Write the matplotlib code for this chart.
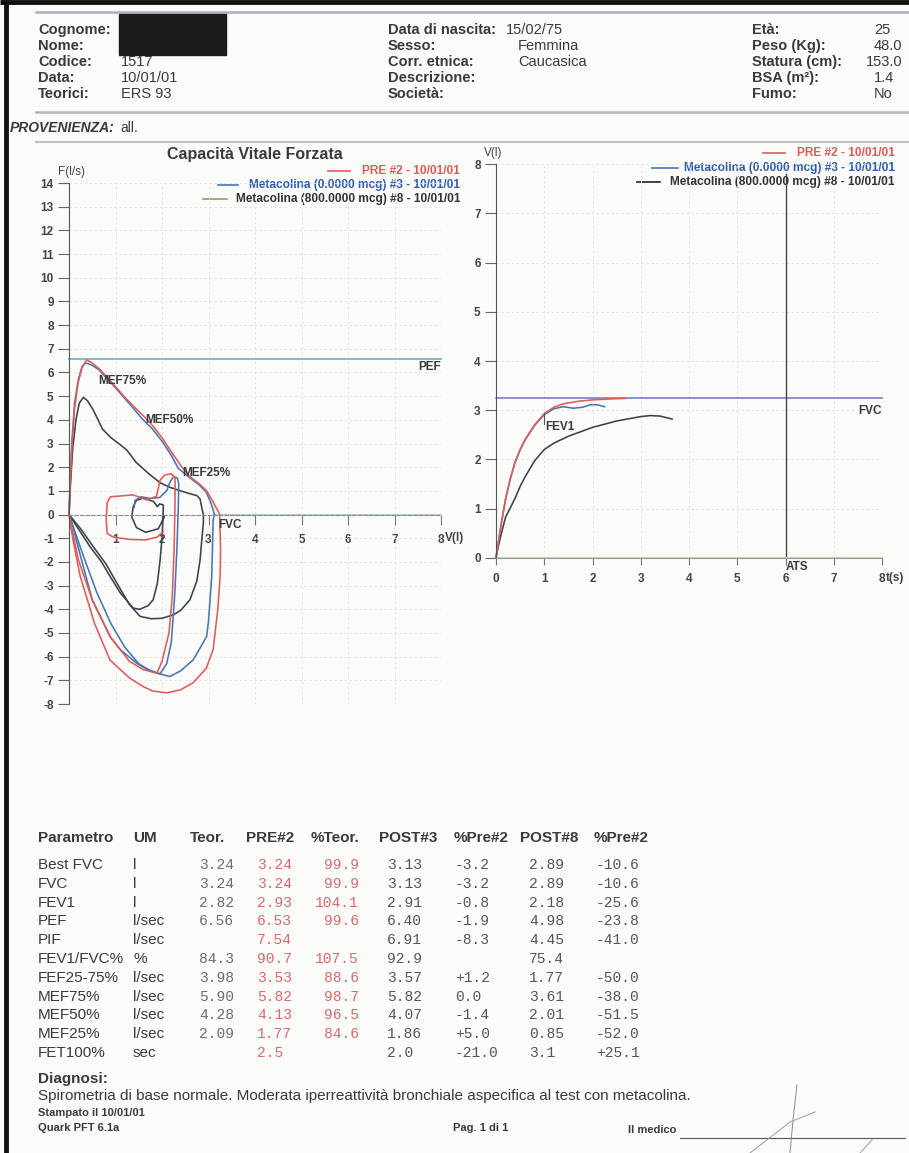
import matplotlib
matplotlib.use("Agg")
import matplotlib.pyplot as plt

# ---------------- data ----------------
NARROW = ['Liberation Sans', 'DejaVu Sans']
SANS = ['Liberation Sans', 'DejaVu Sans']
MONO = ['Liberation Mono', 'DejaVu Sans Mono']

RED = '#df5b58'
BLUE = '#4677b4'
DARK = '#3b424c'

series_names = ["PRE #2 - 10/01/01",
                "Metacolina (0.0000 mcg) #3 - 10/01/01",
                "Metacolina (800.0000 mcg) #8 - 10/01/01"]

PEF_TEOR = 6.56
FVC_TEOR = 3.24
ATS_T = 6

# flow-volume: expiration
PRE_EXP_V = [0, 0.02, 0.06, 0.12, 0.2, 0.28, 0.38, 0.5, 0.65, 0.81, 1.0, 1.2, 1.4, 1.62, 1.8, 2.0, 2.2, 2.43, 2.6, 2.8, 2.96, 3.08, 3.16, 3.22, 3.24]
PRE_EXP_F = [0, 1.0, 2.8, 4.5, 5.6, 6.2, 6.53, 6.4, 6.15, 5.82, 5.4, 4.95, 4.55, 4.13, 3.75, 3.25, 2.65, 2.0, 1.6, 1.3, 1.0, 0.6, 0.3, 0.1, 0]
B0_EXP_V = [0, 0.02, 0.06, 0.12, 0.2, 0.28, 0.36, 0.5, 0.65, 0.78, 1.0, 1.2, 1.4, 1.56, 1.8, 2.0, 2.2, 2.35, 2.6, 2.8, 2.95, 3.05, 3.1, 3.13]
B0_EXP_F = [0, 1.1, 3.0, 4.7, 5.7, 6.25, 6.4, 6.3, 6.1, 5.82, 5.35, 4.9, 4.45, 4.07, 3.6, 3.1, 2.5, 1.95, 1.55, 1.25, 0.95, 0.5, 0.2, 0]
B8_EXP_V = [0, 0.03, 0.08, 0.15, 0.22, 0.31, 0.4, 0.52, 0.72, 0.9, 1.1, 1.24, 1.445, 1.7, 1.96, 2.17, 2.4, 2.6, 2.75, 2.82, 2.86, 2.89]
B8_EXP_F = [0, 1.2, 2.8, 4.0, 4.7, 4.95, 4.8, 4.42, 3.61, 3.25, 2.95, 2.73, 2.2, 1.75, 1.34, 1.15, 1.0, 0.88, 0.8, 0.65, 0.25, 0]

# flow-volume: forced inspiration
PRE_INS_V = [3.24, 3.26, 3.25, 3.2, 3.1, 2.95, 2.67, 2.4, 2.1, 1.8, 1.6, 1.3, 0.88, 0.55, 0.24, 0.08, 0]
PRE_INS_F = [0, -1.5, -2.6, -4.0, -5.7, -6.5, -7.1, -7.4, -7.53, -7.45, -7.27, -6.9, -6.14, -4.6, -2.6, -1.0, 0]
B0_INS_V = [3.13, 3.1, 3.07, 3.0, 2.96, 2.8, 2.67, 2.4, 2.17, 1.89, 1.6, 1.45, 1.1, 0.88, 0.5, 0.24, 0.08, 0]
B0_INS_F = [0, -0.22, -2.6, -4.5, -5.15, -5.7, -6.14, -6.6, -6.84, -6.7, -6.45, -6.27, -5.7, -5.15, -3.6, -1.7, -0.5, 0]
B8_INS_V = [2.89, 2.89, 2.85, 2.82, 2.75, 2.6, 2.4, 2.24, 2.0, 1.77, 1.53, 1.3, 1.03, 0.8, 0.52, 0.25, 0]
B8_INS_F = [0, -0.35, -1.2, -1.9, -2.8, -3.6, -4.05, -4.24, -4.38, -4.4, -4.3, -3.8, -2.9, -2.1, -1.35, -0.6, 0]

# flow-volume: second inspiration and tidal loops
PRE_TID_V = [0, 0.2, 0.5, 0.9, 1.3, 1.6, 1.89, 2.0, 2.15, 2.22, 2.26, 2.28, 2.28, 2.2, 2.06, 1.96, 1.88, 1.67, 1.38, 0.89, 0.82, 0.8, 0.82, 0.95, 1.3, 1.65, 1.9, 2.03]
PRE_TID_F = [0, -1.9, -3.6, -5.2, -6.2, -6.55, -6.7, -6.2, -5.0, -3.5, -1.5, 0.5, 1.57, 1.72, 1.67, 1.45, 0.77, 0.62, 0.83, 0.75, 0.5, -0.2, -0.8, -0.95, -1.05, -1.07, -0.95, -0.72]
B0_TID_V = [0, 0.3, 0.6, 0.9, 1.2, 1.5, 1.75, 1.96, 2.1, 2.2, 2.27, 2.32, 2.35, 2.36, 2.33, 2.25, 2.18, 2.1, 1.95, 1.75, 1.55, 1.42, 1.4]
B0_TID_F = [0, -1.7, -3.3, -4.6, -5.6, -6.3, -6.6, -6.72, -6.3, -5.4, -3.5, -1.5, 0.3, 1.3, 1.55, 1.6, 1.4, 1.0, 0.72, 0.68, 0.75, 0.6, 0.3]
B8_TID_V = [0, 0.2, 0.45, 0.7, 0.88, 1.1, 1.38, 1.52, 1.7, 1.81, 1.9, 1.96, 2.0, 2.02, 2.03, 1.95, 1.9, 1.82, 1.6, 1.45, 1.38, 1.35, 1.45, 1.65, 1.92, 2.05]
B8_TID_F = [0, -0.6, -1.35, -2.0, -2.6, -3.3, -3.95, -4.0, -3.85, -3.6, -2.9, -1.9, -1.0, -0.2, 0.4, 0.45, 0.33, 0.55, 0.7, 0.6, 0.33, -0.1, -0.55, -0.75, -0.6, -0.1]

# volume-time
PRE_T = [0, 0.05, 0.1, 0.2, 0.3, 0.4, 0.5, 0.6, 0.8, 1.0, 1.2, 1.4, 1.7, 2.0, 2.4, 2.7]
PRE_VT = [0, 0.32, 0.64, 1.2, 1.62, 1.96, 2.2, 2.4, 2.7, 2.93, 3.06, 3.13, 3.18, 3.21, 3.23, 3.24]
B0_T = [0, 0.05, 0.1, 0.2, 0.3, 0.4, 0.5, 0.6, 0.8, 1.0, 1.2, 1.4, 1.6, 1.8, 1.95, 2.1, 2.25]
B0_VT = [0, 0.32, 0.64, 1.2, 1.62, 1.95, 2.19, 2.39, 2.69, 2.91, 3.03, 3.07, 3.04, 3.06, 3.11, 3.11, 3.07]
B8_T = [0, 0.05, 0.1, 0.2, 0.3, 0.4, 0.5, 0.6, 0.8, 1.0, 1.2, 1.5, 2.0, 2.5, 3.0, 3.2, 3.4, 3.65]
B8_VT = [0, 0.24, 0.45, 0.83, 1.02, 1.22, 1.45, 1.64, 1.97, 2.2, 2.33, 2.47, 2.65, 2.78, 2.87, 2.89, 2.88, 2.82]

# table
table_header = ["Parametro", "UM", "Teor.", "PRE#2", "%Teor.", "POST#3", "%Pre#2", "POST#8", "%Pre#2"]
param_names = ["Best FVC", "FVC", "FEV1", "PEF", "PIF", "FEV1/FVC%", "FEF25-75%", "MEF75%", "MEF50%", "MEF25%", "FET100%"]
units = ["l", "l", "l", "l/sec", "l/sec", "%", "l/sec", "l/sec", "l/sec", "l/sec", "sec"]
teor = ["3.24", "3.24", "2.82", "6.56", "", "84.3", "3.98", "5.90", "4.28", "2.09", ""]
pre2 = ["3.24", "3.24", "2.93", "6.53", "7.54", "90.7", "3.53", "5.82", "4.13", "1.77", "2.5"]
pct_teor = ["99.9", "99.9", "104.1", "99.6", "", "107.5", "88.6", "98.7", "96.5", "84.6", ""]
post3 = ["3.13", "3.13", "2.91", "6.40", "6.91", "92.9", "3.57", "5.82", "4.07", "1.86", "2.0"]
pct_pre3 = ["-3.2", "-3.2", "-0.8", "-1.9", "-8.3", "", "+1.2", "0.0", "-1.4", "+5.0", "-21.0"]
post8 = ["2.89", "2.89", "2.18", "4.98", "4.45", "75.4", "1.77", "3.61", "2.01", "0.85", "3.1"]
pct_pre8 = ["-10.6", "-10.6", "-25.6", "-23.8", "-41.0", "", "-50.0", "-38.0", "-51.5", "-52.0", "+25.1"]

header_left = [("Cognome:", ""), ("Nome:", ""), ("Codice:", "1517"), ("Data:", "10/01/01"), ("Teorici:", "ERS 93")]
header_mid = [("Data di nascita:", "15/02/75"), ("Sesso:", "Femmina"), ("Corr. etnica:", "Caucasica"), ("Descrizione:", ""), ("Società:", "")]
header_right = [("Età:", "25"), ("Peso (Kg):", "48.0"), ("Statura (cm):", "153.0"), ("BSA (m²):", "1.4"), ("Fumo:", "No")]

# ---------------- figure ----------------
W, H = 909, 1153
fig = plt.figure(figsize=(W / 100, H / 100), dpi=100)
fig.patch.set_facecolor('#fbfbfa')
bg = fig.add_axes([0, 0, 1, 1])
bg.set_xlim(0, W)
bg.set_ylim(H, 0)
bg.axis('off')

TXT = '#3a3a3a'


def t(x, y, s, size=10, fam=NARROW, **kw):
    kw.setdefault('va', 'center')
    kw.setdefault('color', TXT)
    bg.text(x, y, s, fontsize=size, family=fam, **kw)


# page frame
bg.plot([0, W], [2, 2], color='#111111', lw=3.5, solid_capstyle='butt')
bg.plot([5.5, 5.5], [0, H], color='#111111', lw=3.5, solid_capstyle='butt')
bg.plot([36, W], [12, 12], color='#aab2c2', lw=1.8)
bg.plot([36, W], [112, 112], color='#b4b4bc', lw=1.8)
bg.plot([36, W], [142, 142], color='#b8c4cc', lw=1.5)

# header
rows_y = [30, 46, 62, 78, 94]
for (lab, val), y in zip(header_left, rows_y):
    t(38, y, lab, 10.5, weight='bold')
    if val:
        t(121, y, val, 10.5)
bg.add_patch(plt.Rectangle((119, 14), 107, 41, color='#1c1a1a', zorder=5))
for i, ((lab, val), y) in enumerate(zip(header_mid, rows_y)):
    t(388, y, lab, 10.5, weight='bold')
    if val:
        t(506 if i == 0 else 518, y, val, 10.5)
for (lab, val), y in zip(header_right, rows_y):
    t(752, y, lab, 10.5, weight='bold')
    t(866 if val == "153.0" else 874, y, val, 10.5)
t(10, 128, "PROVENIENZA:", 10, weight='bold', style='italic')
t(120, 128, "all.", 10)

# legends (drawn as text)
leg_colors_text = [RED, '#2f5fae', '#333333']
leg_colors_line = [RED, BLUE, '#9a9a62']
left_leg = [(171, 328, 350), (185, 218, 238), (199, 203, 227)]
for (y, x0, x1), name, ct, cl in zip(left_leg, series_names, leg_colors_text, leg_colors_line):
    bg.plot([x0, x1], [y, y], color=cl, lw=1.2)
    t(460, y, name, 8.6, ha='right', color=ct, weight='bold')
right_leg = [(153, 763, 785), (168, 652, 678), (182, 637, 660)]
leg_colors_line2 = [RED, BLUE, '#222222']
for (y, x0, x1), name, ct, cl in zip(right_leg, series_names, leg_colors_text, leg_colors_line2):
    bg.plot([x0, x1], [y, y], color=cl, lw=1.2)
    t(895, y, name, 8.6, ha='right', color=ct, weight='bold')

t(255, 155, "Capacità Vitale Forzata", 11.5, ha='center', weight='bold')

# ---------------- flow-volume chart ----------------
ax1 = fig.add_axes([69 / W, 1 - 704 / H, 372 / W, 521 / H])
ax1.patch.set_alpha(0)
ax1.set_xlim(0, 8)
ax1.set_ylim(-8, 14)
for s in ['top', 'right']:
    ax1.spines[s].set_visible(False)
ax1.spines['bottom'].set_position(('data', 0))
ax1.spines['left'].set_color('#555555')
ax1.spines['bottom'].set_color('#888888')
ax1.spines['bottom'].set_linestyle((0, (3, 2)))
ax1.set_xticks(range(1, 9))
ax1.set_xticklabels([str(i) for i in range(1, 9)])
ax1.set_yticks(range(-8, 15))
ax1.set_yticklabels([str(i) for i in range(-8, 15)])
ax1.tick_params(axis='y', direction='out', length=8, width=0.8, color='#666666',
                labelsize=8.5, labelcolor='#444444', pad=3)
ax1.tick_params(axis='x', direction='out', length=7, width=0.8, color='#777777',
                labelsize=8.5, labelcolor='#444444', pad=7)
for lab in ax1.get_xticklabels() + ax1.get_yticklabels():
    lab.set_family(NARROW)
    lab.set_weight('bold')
ax1.grid(True, color='#e4e4e4', lw=0.6, ls=(0, (3, 3)))
ax1.set_axisbelow(True)

ax1.plot([0, 8], [PEF_TEOR, PEF_TEOR], color='#78b4c8', lw=1.3, clip_on=False)
ax1.plot([3.1, 8], [0, 0], color='#a8c8dc', lw=1.3, clip_on=False)

kw = dict(lw=1.15, clip_on=False, solid_joinstyle='round')
ax1.plot(B8_EXP_V + B8_INS_V, B8_EXP_F + B8_INS_F, color=DARK, **kw)
ax1.plot(B8_TID_V, B8_TID_F, color=DARK, **kw)
ax1.plot(B0_EXP_V + B0_INS_V, B0_EXP_F + B0_INS_F, color=BLUE, **kw)
ax1.plot(B0_TID_V, B0_TID_F, color=BLUE, **kw)
ax1.plot(PRE_EXP_V + PRE_INS_V, PRE_EXP_F + PRE_INS_F, color=RED, **kw)
ax1.plot(PRE_TID_V, PRE_TID_F, color=RED, **kw)

lab_kw = dict(fontsize=8.5, family=NARROW, weight='bold', color='#3a3a3a', va='center')
ax1.text(0.62, 5.64, "MEF75%", **lab_kw)
ax1.text(1.63, 4.0, "MEF50%", **lab_kw)
ax1.text(2.43, 1.76, "MEF25%", **lab_kw)
ax1.text(3.2, -0.44, "FVC", **lab_kw)
ax1.text(8, PEF_TEOR - 0.35, "PEF", ha='right', **lab_kw)
ax1.text(8.09, -1.0, "V(l)", fontsize=8.5, family=NARROW, weight='bold', color='#444444', va='center')
ax1.text(0.05, 14.48, "F(l/s)", fontsize=8.5, family=NARROW, color='#444444', ha='center', va='center')

# ---------------- volume-time chart ----------------
ax2 = fig.add_axes([496 / W, 1 - 557.7 / H, 386 / W, 393.4 / H])
ax2.patch.set_alpha(0)
ax2.set_xlim(0, 8)
ax2.set_ylim(0, 8)
for s in ['top', 'right']:
    ax2.spines[s].set_visible(False)
ax2.spines['left'].set_color('#555555')
ax2.spines['bottom'].set_color('#999999')
ax2.set_xticks(range(0, 9))
ax2.set_xticklabels([str(i) for i in range(0, 9)])
ax2.set_yticks(range(0, 9))
ax2.set_yticklabels([str(i) for i in range(0, 9)])
ax2.tick_params(axis='y', direction='out', length=8, width=0.8, color='#666666',
                labelsize=8.5, labelcolor='#444444', pad=3)
ax2.tick_params(axis='x', direction='out', length=5, width=0.8, color='#777777',
                labelsize=8.5, labelcolor='#444444', pad=6)
for lab in ax2.get_xticklabels() + ax2.get_yticklabels():
    lab.set_family(NARROW)
    lab.set_weight('bold')
ax2.grid(True, color='#e4e4e4', lw=0.6, ls=(0, (3, 3)))
ax2.set_axisbelow(True)

ax2.plot([0, 8], [FVC_TEOR, FVC_TEOR], color='#8a86c8', lw=1.3, clip_on=False)
ax2.plot([ATS_T, ATS_T], [0, 7.8], color='#444444', lw=1.0, clip_on=False)
ax2.plot([0, 8], [0, 0], color='#d4d0a8', lw=1.3, clip_on=False)
ax2.plot(B8_T, B8_VT, color=DARK, **kw)
ax2.plot(B0_T, B0_VT, color=BLUE, **kw)
ax2.plot(PRE_T, PRE_VT, color=RED, **kw)
ax2.plot([1.0, 1.0], [2.72, 2.95], color='#555555', lw=0.8)
ax2.text(1.02, 2.66, "FEV1", **lab_kw)
ax2.text(8, FVC_TEOR - 0.25, "FVC", ha='right', **lab_kw)
ax2.text(ATS_T, -0.18, "ATS", fontsize=8.5, family=NARROW, weight='bold', color='#3a3a3a', va='center')
ax2.text(8.09, -0.42, "t(s)", fontsize=8.5, family=NARROW, weight='bold', color='#444444', va='center')
ax2.text(-0.06, 8.22, "V(l)", fontsize=8.5, family=NARROW, color='#444444', ha='center', va='center')

# ---------------- table ----------------
col_x = [38, 133, 190, 246, 311, 379, 454, 520, 594]
for x, h in zip(col_x, table_header):
    t(x, 838, h, 11, weight='bold')

row_y0, row_dy = 865, 18.8
TEOR_C = '#6c6c7a'
PRE_C = '#d46c6c'
POST_C = '#55555f'
for i in range(len(param_names)):
    y = row_y0 + i * row_dy
    t(38, y, param_names[i], 11)
    t(133, y, units[i], 11)
    t(199, y, teor[i], 10.5, fam=MONO, color=TEOR_C)
    t(257, y, pre2[i], 10.5, fam=MONO, color=PRE_C)
    t(359, y, pct_teor[i], 10.5, fam=MONO, color=PRE_C, ha='right')
    t(387, y, post3[i], 10.5, fam=MONO, color=POST_C)
    t(455, y, pct_pre3[i], 10.5, fam=MONO, color=POST_C)
    t(529, y, post8[i], 10.5, fam=MONO, color=POST_C)
    t(596, y, pct_pre8[i], 10.5, fam=MONO, color=POST_C)

t(38, 1079, "Diagnosi:", 11, weight='bold')
t(38, 1096, "Spirometria di base normale. Moderata iperreattività bronchiale aspecifica al test con metacolina.", 11, fam=SANS)
t(38, 1113, "Stampato il 10/01/01", 8, weight='bold')
t(38, 1128, "Quark PFT 6.1a", 8, weight='bold')
t(453, 1128, "Pag. 1 di 1", 8, weight='bold')
t(628, 1130, "Il medico", 8, weight='bold')
bg.plot([680, 905], [1138, 1138], color='#555555', lw=0.8)
# signature strokes
bg.plot([797, 793, 790], [1085, 1120, 1153], color='#8a8a8a', lw=0.7)
bg.plot([750, 790, 815], [1153, 1122, 1112], color='#9a9a9a', lw=0.7)
bg.plot([860, 872], [1153, 1140], color='#9a9a9a', lw=0.7)

fig.savefig("out.png", dpi=100, facecolor=fig.get_facecolor())
